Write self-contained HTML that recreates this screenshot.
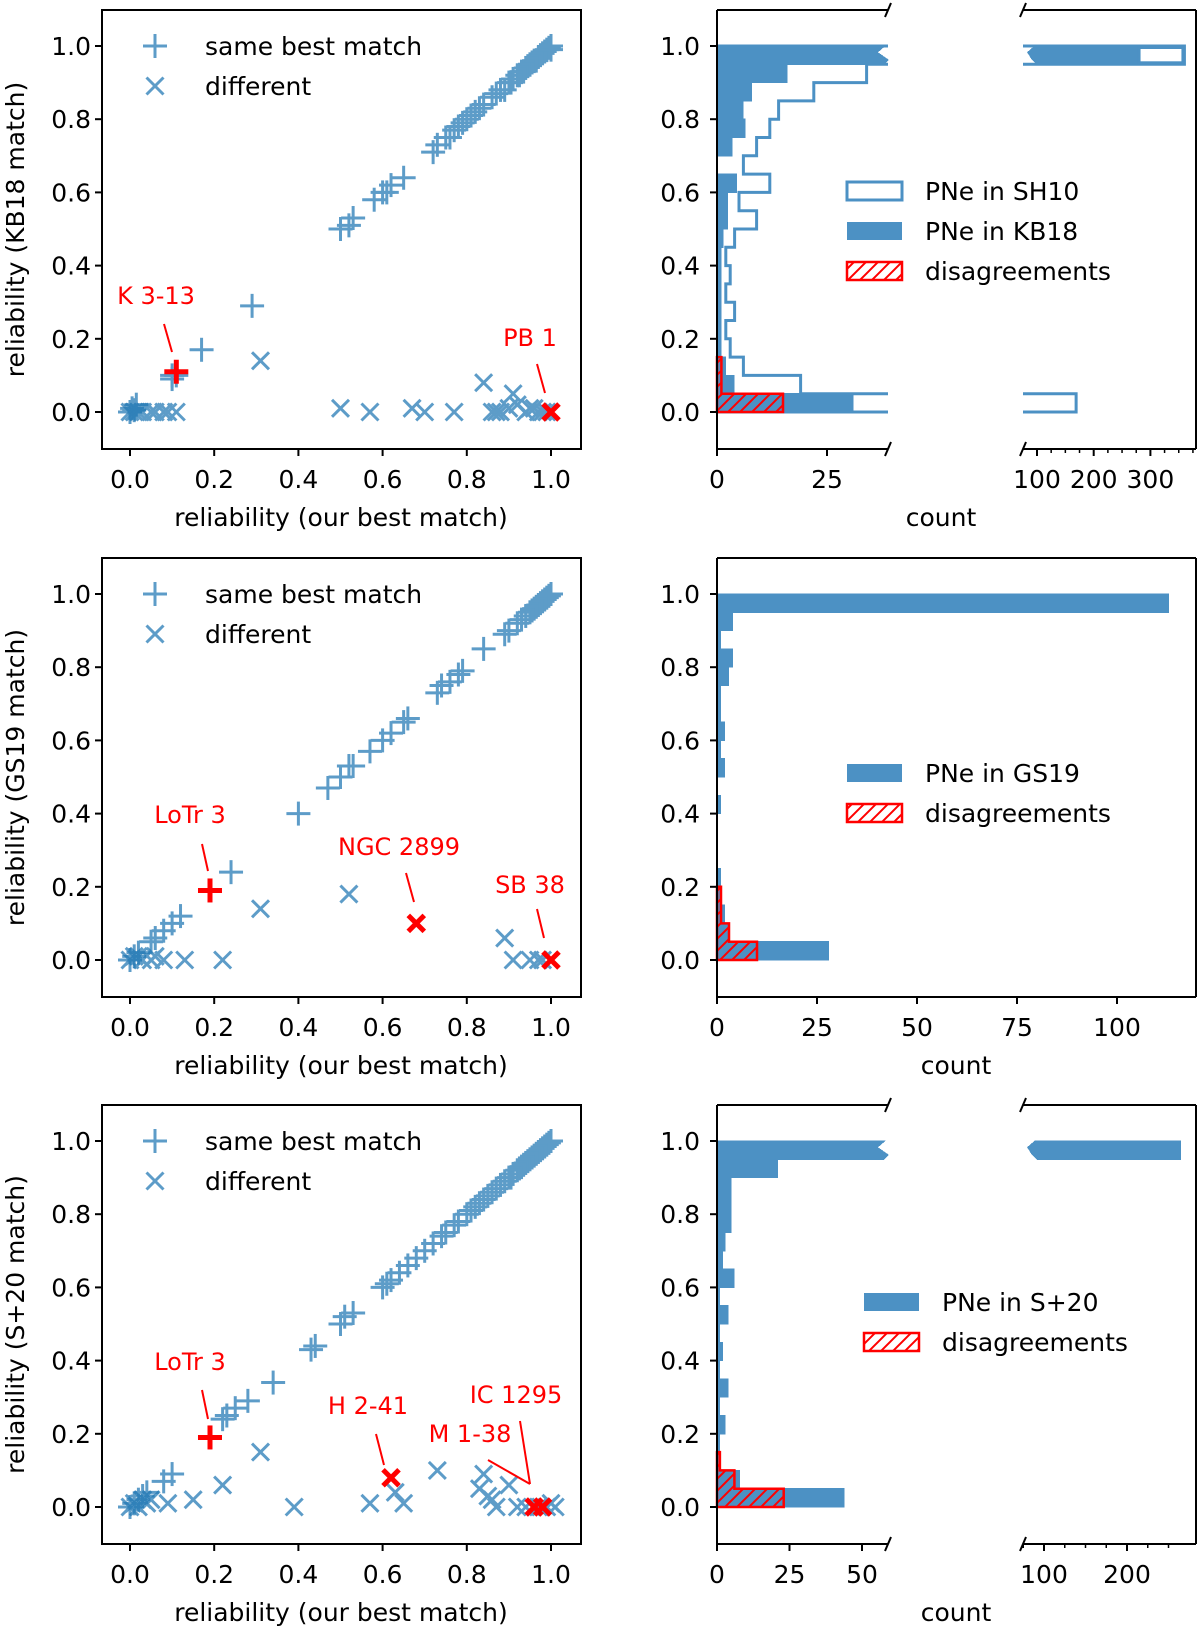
<!DOCTYPE html>
<html><head><meta charset="utf-8"><style>
html,body{margin:0;padding:0;background:#fff}
svg{display:block;font-family:"DejaVu Sans","Liberation Sans",sans-serif}
</style></head><body>
<svg id="fig" xmlns="http://www.w3.org/2000/svg" width="1200" height="1630" viewBox="0 0 1200 1630">
<defs>
<pattern id="hatch" patternUnits="userSpaceOnUse" width="12" height="12" patternTransform="rotate(0)">
<path d="M-3,15 L15,-3 M-3,3 L3,-3 M9,15 L15,9" stroke="red" stroke-width="2"/>
</pattern>
<clipPath id="clipL1"><rect x="717" y="10" width="171" height="439"/></clipPath>
<clipPath id="clipR1"><rect x="1023" y="10" width="173" height="439"/></clipPath>
</defs>
</svg>
<script>
// ---------- DATA ----------
const binStarts=[0,0.05,0.1,0.15,0.2,0.25,0.3,0.35,0.4,0.45,0.5,0.55,0.6,0.65,0.7,0.75,0.8,0.85,0.9,0.95];
const sh10Counts=[169,19,6,3,2,4,2,3,2,4,9,5,12,6,9,12,14,22,34,360];
const kb18Counts=[31,4,2,1,1,1,1,1,1,1.5,2.5,2.5,4.5,0,3.5,6.5,6,8,16,280];
const dis1Counts=[15,1,1,0,0,0,0,0,0,0,0,0,0,0,0,0,0,0,0,0];
const gs19Counts=[28,3,2,1,1,0,0,0,1,0,2,1,2,1,1,3,4,1,4,113];
const dis2Counts=[10,3,1,1,0,0,0,0,0,0,0,0,0,0,0,0,0,0,0,0];
const s20Counts=[44,8,1,1,3,1,4,1,2,1,4,1,6,2,3,5,5,5,21,265];
const dis3Counts=[23,6,1,0,0,0,0,0,0,0,0,0,0,0,0,0,0,0,0,0];

const same1X=[0,0.005,0.01,0.015,0.1,0.1,0.11,0.17,0.29,0.5,0.52,0.53,0.58,0.6,0.61,0.62,0.65,0.72,0.73,0.75,0.76,0.77,0.78,0.79,0.8,0.81,0.82,0.83,0.84,0.86,0.87,0.88,0.89,0.9,0.905,0.91,0.92,0.925,0.93,0.935,0.94,0.945,0.95,0.955,0.96,0.965,0.97,0.975,0.98,0.985,0.99,0.995,1.0,1.0];
const same1Y=[0,0.01,0.005,0.02,0.09,0.1,0.1,0.17,0.29,0.5,0.51,0.53,0.58,0.6,0.6,0.62,0.64,0.71,0.73,0.75,0.75,0.77,0.78,0.79,0.8,0.81,0.82,0.83,0.84,0.86,0.87,0.88,0.88,0.9,0.9,0.91,0.92,0.92,0.93,0.93,0.94,0.945,0.95,0.955,0.96,0.96,0.97,0.975,0.98,0.985,0.99,0.995,1.0,0.99];
const diff1X=[0,0.01,0.02,0.03,0.05,0.06,0.08,0.09,0.11,0.31,0.5,0.57,0.67,0.7,0.77,0.84,0.86,0.87,0.88,0.9,0.91,0.92,0.94,0.95,0.96,0.97,0.98,0.99];
const diff1Y=[0,0,0,0,0,0,0,0,0,0.14,0.01,0,0.01,0,0,0.08,0,0,0,0.01,0.05,0.02,0,0.01,0.01,0,0,0];
const red1PlusX=[0.11], red1PlusY=[0.11];
const red1CrossX=[1.0], red1CrossY=[0.0];

const same2X=[0,0.01,0.02,0.05,0.06,0.08,0.1,0.12,0.24,0.4,0.47,0.5,0.52,0.53,0.57,0.6,0.62,0.65,0.66,0.73,0.74,0.76,0.78,0.79,0.84,0.89,0.9,0.92,0.93,0.94,0.95,0.955,0.96,0.965,0.97,0.975,0.98,0.985,0.99,0.995,1.0];
const same2Y=[0,0.01,0.02,0.05,0.06,0.08,0.1,0.12,0.24,0.4,0.47,0.5,0.53,0.53,0.57,0.6,0.62,0.65,0.66,0.73,0.75,0.76,0.78,0.79,0.85,0.89,0.9,0.92,0.93,0.94,0.95,0.955,0.96,0.965,0.97,0.975,0.98,0.985,0.99,0.995,1.0];
const diff2X=[0,0.01,0.02,0.03,0.05,0.06,0.08,0.13,0.22,0.31,0.52,0.89,0.91,0.95,0.97,0.98];
const diff2Y=[0,0.01,0.01,0,0,0.01,0,0,0,0.14,0.18,0.06,0,0,0,0];
const red2PlusX=[0.19], red2PlusY=[0.19];
const red2CrossX=[0.68,1.0], red2CrossY=[0.1,0.0];

const same3X=[0,0.01,0.02,0.03,0.04,0.08,0.1,0.19,0.22,0.23,0.25,0.28,0.34,0.43,0.44,0.5,0.51,0.53,0.6,0.61,0.62,0.64,0.66,0.68,0.7,0.72,0.74,0.75,0.77,0.78,0.8,0.81,0.82,0.83,0.84,0.85,0.86,0.87,0.88,0.89,0.9,0.905,0.91,0.92,0.925,0.93,0.935,0.94,0.945,0.95,0.955,0.96,0.965,0.97,0.975,0.98,0.985,0.99,0.995,1.0];
const same3Y=[0,0.01,0.02,0.03,0.04,0.07,0.09,0.19,0.24,0.25,0.27,0.29,0.34,0.43,0.44,0.5,0.52,0.53,0.6,0.61,0.62,0.64,0.66,0.68,0.7,0.72,0.74,0.75,0.77,0.78,0.8,0.81,0.82,0.83,0.84,0.85,0.86,0.87,0.88,0.89,0.9,0.9,0.91,0.92,0.925,0.93,0.935,0.94,0.945,0.95,0.955,0.96,0.965,0.97,0.975,0.98,0.985,0.99,0.995,1.0];
const diff3X=[0,0.01,0.02,0.03,0.04,0.05,0.09,0.15,0.22,0.31,0.39,0.57,0.63,0.65,0.73,0.83,0.84,0.85,0.86,0.87,0.9,0.92,0.94,0.97,0.99,1.0,1.01];
const diff3Y=[0,0.01,0,0.02,0.01,0.02,0.01,0.02,0.06,0.15,0,0.01,0.04,0.01,0.1,0.05,0.09,0.03,0.02,0,0.06,0,0,0,0,0.01,0];
const red3PlusX=[0.19], red3PlusY=[0.19];
const red3CrossX=[0.62,0.96,0.98], red3CrossY=[0.08,0,0];

// ---------- HELPERS ----------
const svg=document.getElementById('fig');
const NS='http://www.w3.org/2000/svg';
const BLUE='#1f77b4', FILL='#4c91c4';
function el(tag,attrs,parent){const e=document.createElementNS(NS,tag);for(const k in attrs)e.setAttribute(k,attrs[k]);(parent||svg).appendChild(e);return e;}
function txt(x,y,s,size,anchor,color,parent,extra){const t=el('text',Object.assign({x:x,y:y,'font-size':size,'text-anchor':anchor||'start',fill:color||'#000'},extra||{}),parent);t.textContent=s;return t;}
const rowTop=[10,558,1105];
function sx(v){return 130+v*421;}
function syF(r){const y1=rowTop[r]+36;return v=>y1+(1-v)*366;}

function plusMark(g,x,y,col,w,h){el('line',{x1:x-h,y1:y,x2:x+h,y2:y,stroke:col,'stroke-width':w},g);el('line',{x1:x,y1:y-h,x2:x,y2:y+h,stroke:col,'stroke-width':w},g);}
function crossMark(g,x,y,col,w,h){el('line',{x1:x-h,y1:y-h,x2:x+h,y2:y+h,stroke:col,'stroke-width':w},g);el('line',{x1:x-h,y1:y+h,x2:x+h,y2:y-h,stroke:col,'stroke-width':w},g);}

function scatterPanel(r,ylabel,sX,sY,dX,dY,rpX,rpY,rcX,rcY,annots){
  const top=rowTop[r],bot=top+439,sy=syF(r);
  const g=el('g',{});
  
  
  const pts=el('g',{opacity:0.72},g);
  
  
  for(let i=0;i<sX.length;i++) plusMark(pts,sx(sX[i]),sy(sY[i]),BLUE,3,12);
  const pd=el('g',{opacity:0.72},g);
  
  
  for(let i=0;i<dX.length;i++) crossMark(pd,sx(dX[i]),sy(dY[i]),BLUE,3,8.5);
  const pr=el('g',{},g);
  
  
  for(let i=0;i<rpX.length;i++) plusMark(pr,sx(rpX[i]),sy(rpY[i]),'red',5,12);
  for(let i=0;i<rcX.length;i++) crossMark(pr,sx(rcX[i]),sy(rcY[i]),'red',5,8);
  annots.forEach(a=>{
    const t=txt(a[1],a[2],a[0],24,'middle','red',g);
    
    
    el('line',{x1:a[3],y1:a[4],x2:a[5],y2:a[6],stroke:'red','stroke-width':2},g);
  });
  el('rect',{x:102,y:top,width:479,height:439,fill:'none',stroke:'#000','stroke-width':2},g);
  [0,0.2,0.4,0.6,0.8,1.0].forEach(v=>{
    el('line',{x1:95,y1:sy(v),x2:102,y2:sy(v),stroke:'#000','stroke-width':2},g);
    txt(91,sy(v)+9,v.toFixed(1),25,'end','#000',g);
    el('line',{x1:sx(v),y1:bot,x2:sx(v),y2:bot+7,stroke:'#000','stroke-width':2},g);
    txt(sx(v),bot+39,v.toFixed(1),25,'middle','#000',g);
  });
  const xl=txt(341,bot+77,'reliability (our best match)',25,'middle','#000',g);
  
  
  const cy=(top+bot)/2;
  const yl=txt(0,0,ylabel,25,'middle','#000',g,{transform:`translate(24,${cy}) rotate(-90)`});
  
  
  const lg=el('g',{},g);
  
  
  const l1=el('g',{opacity:0.72},lg);plusMark(l1,155,top+36,BLUE,3,12);
  const l2=el('g',{opacity:0.72},lg);crossMark(l2,155,top+76,BLUE,3,8.5);
  txt(205,top+45,'same best match',25,'start','#000',lg);
  txt(205,top+85,'different',25,'start','#000',lg);
}

function histPanel(cfg){
  const r=cfg.r,top=rowTop[r],bot=top+439,sy=syF(r);
  const g=el('g',{});
  
  
  const leftEnd=cfg.broken?888:1196;
  function bar(parent,i,c,style){
    if(c<=0)return;
    const y0=sy(binStarts[i]+0.05)-0.5,y1=sy(binStarts[i])+0.5;
    const h=y1-y0;
    if(!cfg.broken||c<=cfg.leftMax){
      el('rect',Object.assign({x:717,y:y0,width:cfg.xL(c)-717,height:h},style),parent);
    } else {
      el('polygon',Object.assign({points:`717,${y0} 886,${y0} 878,${y0+h*0.35} 889,${y0+h*0.75} 884,${y1} 717,${y1}`},style),parent);
      el('polygon',Object.assign({points:`1035,${y0} ${cfg.xR(c)},${y0} ${cfg.xR(c)},${y1} 1037,${y1} 1032,${y0+h*0.75} 1027,${y0+h*0.35}`},style),parent);
    }
  }
  if(cfg.outline){
    const og=el('g',{},g);
    
    
    let d=`M717,${sy(0)}`;
    for(let i=0;i<binStarts.length;i++){
      const x=cfg.xL(cfg.outline[i]);
      d+=` L${x},${sy(binStarts[i])} L${x},${sy(binStarts[i]+0.05)}`;
    }
    d+=` L717,${sy(1)}`;
    el('path',{d:d,fill:'none',stroke:FILL,'stroke-width':3,'clip-path':'url(#clipL1)'},og);
    for(let i=0;i<binStarts.length;i++){
      const c=cfg.outline[i];
      if(c>cfg.rightMin){
        const y0=sy(binStarts[i]+0.05),y1=sy(binStarts[i]);
        el('path',{d:`M1020,${y0} L${cfg.xR(c)},${y0} L${cfg.xR(c)},${y1} L1020,${y1}`,fill:'none',stroke:FILL,'stroke-width':3,'clip-path':'url(#clipR1)'},og);
      }
    }
  }
  const fg=el('g',{'shape-rendering':'crispEdges'},g);
  
  
  for(let i=0;i<binStarts.length;i++) bar(fg,i,cfg.filled[i],{fill:FILL});
  if(cfg.outline){
    const i=19,c=cfg.outline[i],y0=sy(1),y1=sy(0.95);
    el('rect',{x:cfg.xR(cfg.filled[i]),y:y0+1.5,width:cfg.xR(c)-cfg.xR(cfg.filled[i])-1.5,height:y1-y0-3,fill:'#fff',stroke:FILL,'stroke-width':3},g);
  }
  const dg=el('g',{},g);
  
  
  let d=`M717,${sy(0)}`;
  let lastI=0;
  for(let i=0;i<binStarts.length;i++){ if(cfg.dis[i]>0) lastI=i; }
  for(let i=0;i<=lastI;i++){
    const x=cfg.xL(cfg.dis[i]);
    d+=` L${x},${sy(binStarts[i])} L${x},${sy(binStarts[i]+0.05)}`;
  }
  d+=` L717,${sy(binStarts[lastI]+0.05)} Z`;
  el('path',{d:d,fill:'url(#hatch)',stroke:'red','stroke-width':2.5},dg);
  el('line',{x1:717,y1:top,x2:717,y2:bot,stroke:'#000','stroke-width':2},g);
  el('line',{x1:717,y1:top,x2:leftEnd,y2:top,stroke:'#000','stroke-width':2},g);
  el('line',{x1:717,y1:bot,x2:leftEnd,y2:bot,stroke:'#000','stroke-width':2},g);
  if(cfg.broken){
    el('line',{x1:1023,y1:top,x2:1196,y2:top,stroke:'#000','stroke-width':2},g);
    el('line',{x1:1023,y1:bot,x2:1196,y2:bot,stroke:'#000','stroke-width':2},g);
    el('line',{x1:1196,y1:top,x2:1196,y2:bot,stroke:'#000','stroke-width':2},g);
    [[888,top],[888,bot],[1023,top],[1023,bot]].forEach(p=>el('line',{x1:p[0]-3,y1:p[1]+7,x2:p[0]+3,y2:p[1]-7,stroke:'#000','stroke-width':2},g));
  } else {
    el('line',{x1:1196,y1:top,x2:1196,y2:bot,stroke:'#000','stroke-width':2},g);
  }
  [0,0.2,0.4,0.6,0.8,1.0].forEach(v=>{
    el('line',{x1:710,y1:sy(v),x2:717,y2:sy(v),stroke:'#000','stroke-width':2},g);
    txt(700,sy(v)+9,v.toFixed(1),25,'end','#000',g);
  });
  cfg.ticksL.forEach(t=>{
    el('line',{x1:cfg.xL(t),y1:bot,x2:cfg.xL(t),y2:bot+7,stroke:'#000','stroke-width':2},g);
    txt(cfg.xL(t),bot+39,String(t),25,'middle','#000',g);
  });
  if(cfg.broken){
    cfg.ticksR.forEach(t=>{
      el('line',{x1:cfg.xR(t),y1:bot,x2:cfg.xR(t),y2:bot+7,stroke:'#000','stroke-width':2},g);
      txt(cfg.xR(t),bot+39,String(t),25,'middle','#000',g);
    });
    cfg.minorR.forEach(t=>{
      el('line',{x1:cfg.xR(t),y1:bot,x2:cfg.xR(t),y2:bot+4,stroke:'#000','stroke-width':1.5},g);
    });
  }
  const xl=txt(cfg.countX,bot+77,'count',25,'middle','#000',g);
  
  
  const lg=el('g',{},g);
  
  
  cfg.legend.forEach((e,k)=>{
    const y=cfg.legY+k*40;
    const st=e[1]==='outline'?{fill:'#fff',stroke:FILL,'stroke-width':3}:e[1]==='fill'?{fill:FILL}:{fill:'url(#hatch)',stroke:'red','stroke-width':2.5};
    el('rect',Object.assign({x:cfg.legX,y:y-9,width:55,height:18},st),lg);
    txt(cfg.legX+78,y+9,e[0],25,'start','#000',lg);
  });
}

// ---------- DRAW ----------
scatterPanel(0,'reliability (KB18 match)',same1X,same1Y,diff1X,diff1Y,red1PlusX,red1PlusY,red1CrossX,red1CrossY,
 [['K 3-13',156,304,164,324,172,352],['PB 1',530,346,537,364,545,393]]);
scatterPanel(1,'reliability (GS19 match)',same2X,same2Y,diff2X,diff2Y,red2PlusX,red2PlusY,red2CrossX,red2CrossY,
 [['LoTr 3',190,823,202,844,208,871],['NGC 2899',399,855,406,873,414,902],['SB 38',530,893,537,909,544,938]]);
scatterPanel(2,'reliability (S+20 match)',same3X,same3Y,diff3X,diff3Y,red3PlusX,red3PlusY,red3CrossX,red3CrossY,
 [['LoTr 3',190,1370,202,1390,208,1419],['H 2-41',368,1414,376,1434,384,1465],['M 1-38',470,1442,488,1460,530,1484],['IC 1295',516,1403,520,1421,530,1484]]);

histPanel({r:0,broken:true,xL:c=>717+c*4.4,leftMax:38.9,xR:c=>1037+(c-100)*0.567,rightMin:75.3,
 filled:kb18Counts,outline:sh10Counts,dis:dis1Counts,ticksL:[0,25],ticksR:[100,200,300],
 minorR:[125,150,175,225,250,275,325,350,375],countX:941,
 legend:[['PNe in SH10','outline'],['PNe in KB18','fill'],['disagreements','hatch']],legX:847,legY:191});
histPanel({r:1,broken:false,xL:c=>717+c*4.0,filled:gs19Counts,dis:dis2Counts,ticksL:[0,25,50,75,100],countX:956,
 legend:[['PNe in GS19','fill'],['disagreements','hatch']],legX:847,legY:773});
histPanel({r:2,broken:true,xL:c=>717+c*2.9,leftMax:59,xR:c=>1044+(c-100)*0.83,rightMin:74.7,
 filled:s20Counts,dis:dis3Counts,ticksL:[0,25,50],ticksR:[100,200],
 minorR:[75,125,150,175,225,250],countX:956,
 legend:[['PNe in S+20','fill'],['disagreements','hatch']],legX:864,legY:1302});
</script>
</body></html>
